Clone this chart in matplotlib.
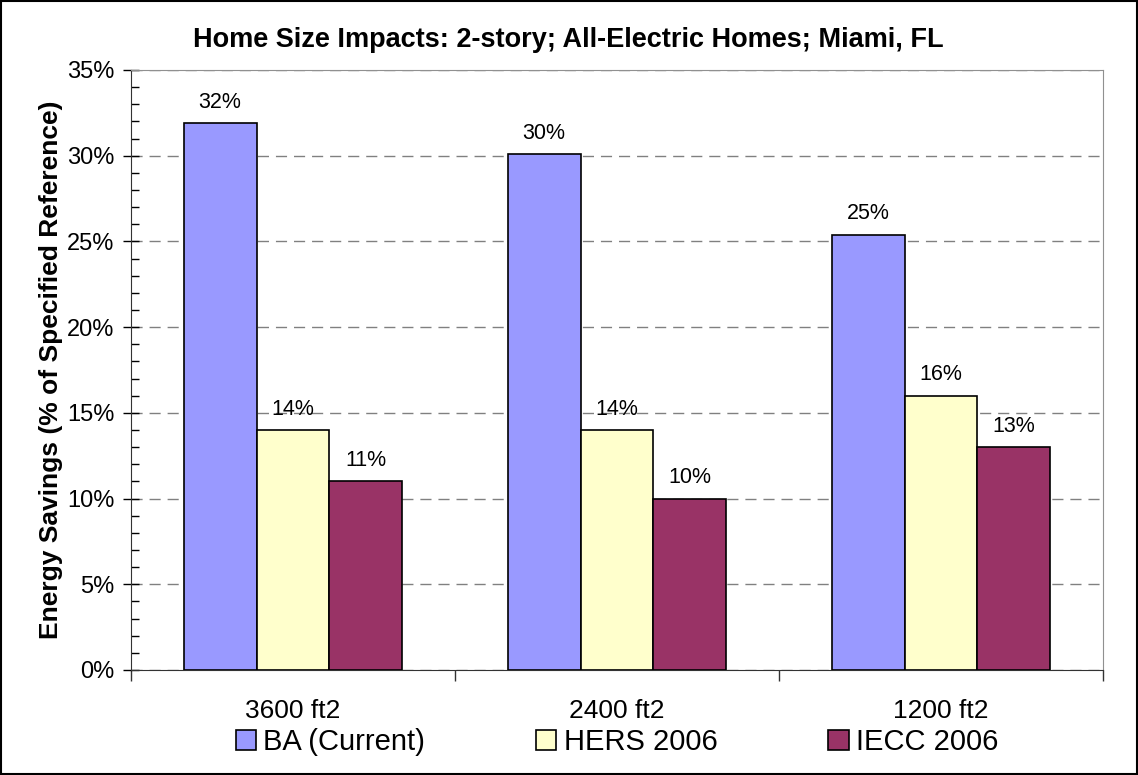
import numpy as np
import matplotlib.pyplot as plt
from matplotlib.ticker import MultipleLocator, PercentFormatter
from matplotlib.patches import Rectangle

categories = ["3600 ft2", "2400 ft2", "1200 ft2"]
series_names = ["BA (Current)", "HERS 2006", "IECC 2006"]
ba = [31.9, 30.1, 25.4]
hers = [14.0, 14.0, 16.0]
iecc = [11.0, 10.0, 13.0]
labels_ba = ["32%", "30%", "25%"]
labels_hers = ["14%", "14%", "16%"]
labels_iecc = ["11%", "10%", "13%"]
colors = ["#9999FF", "#FFFFCC", "#993366"]

plt.rcParams['font.family'] = ['Liberation Sans', 'DejaVu Sans']

fig = plt.figure(figsize=(11.38, 7.75), dpi=100)
ax = fig.add_axes([0.1151, 0.1355, 0.8541, 0.7742])

x = np.arange(len(categories))
w = 0.225
series = [ba, hers, iecc]
texts = [labels_ba, labels_hers, labels_iecc]
for i, (vals, lab, c, name) in enumerate(zip(series, texts, colors, series_names)):
    bars = ax.bar(x + (i - 1) * w, vals, w, color=c, edgecolor="black",
                  linewidth=1.2, label=name, zorder=3)
    for b, t in zip(bars, lab):
        ax.text(b.get_x() + b.get_width() / 2, b.get_height() + 0.6, t,
                ha="center", va="bottom", fontsize=15.5)

ax.set_xlim(-0.5, 2.5)
ax.set_ylim(0, 35)
ax.yaxis.set_major_locator(MultipleLocator(5))
ax.yaxis.set_minor_locator(MultipleLocator(1))
ax.yaxis.set_major_formatter(PercentFormatter(decimals=0))
ax.set_xticks([-0.5, 0.5, 1.5, 2.5])
ax.set_xticklabels([])
ax.set_xticks(x, minor=True)
ax.set_xticklabels(categories, minor=True)
ax.tick_params(axis="x", which="major", direction="out", length=8, width=1, color="#333333")
ax.tick_params(axis="x", which="minor", length=0, pad=21, labelsize=19)
ax.tick_params(axis="y", which="major", direction="inout", length=12, width=1, labelsize=17, pad=6)
ax.tick_params(axis="y", which="minor", direction="in", length=6, width=1)

ax.grid(axis="y", which="major", color="#808080", linestyle=(0, (8, 5)), linewidth=1, zorder=0)
for s in ["top", "right"]:
    ax.spines[s].set_color("#909090")
ax.spines["left"].set_color("#333333")
ax.spines["bottom"].set_color("#333333")

ax.set_ylabel("Energy Savings (% of Specified Reference)", fontsize=19,
              fontweight="bold", labelpad=3)
fig.text(0.499, 0.948, "Home Size Impacts: 2-story; All-Electric Homes; Miami, FL",
         ha="center", va="center", fontsize=19.5, fontweight="bold")

leg = ax.legend(loc="center", bbox_to_anchor=(0.5, -0.12), ncol=3, frameon=False,
                fontsize=21, handlelength=0.7, handleheight=0.7, handletextpad=0.25,
                columnspacing=3.8, borderaxespad=0)

fig.patches.append(Rectangle((0.001, 0.001), 0.998, 0.998, transform=fig.transFigure,
                             fill=False, edgecolor="black", linewidth=1.5))

fig.savefig("out.png", dpi=100)
